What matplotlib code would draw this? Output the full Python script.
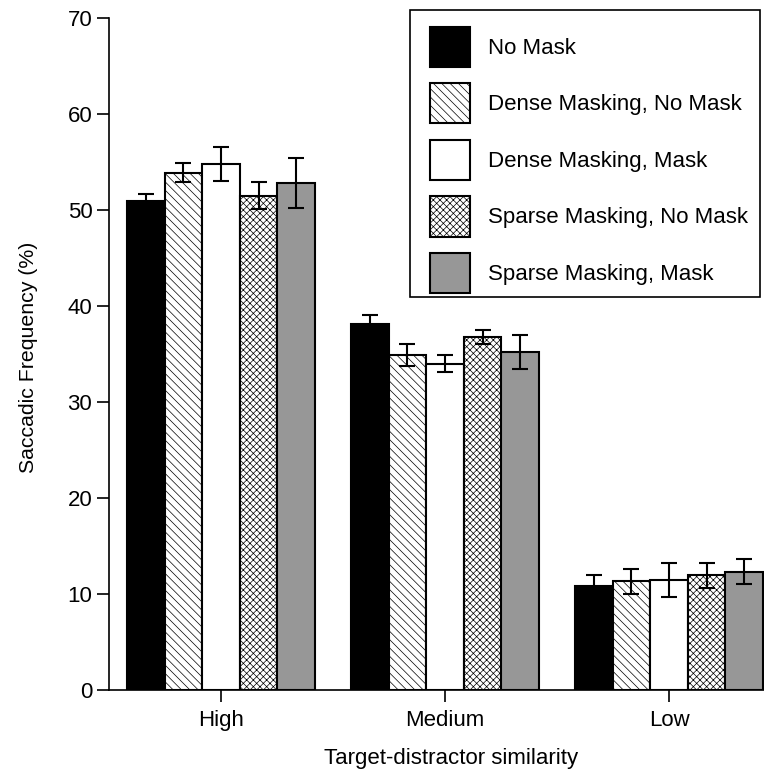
import matplotlib.pyplot as plt
from matplotlib.patches import Rectangle
import numpy as np

plt.rcParams['font.family'] = ['Liberation Sans', 'DejaVu Sans']
plt.rcParams['hatch.linewidth'] = 0.5

groups = ["High", "Medium", "Low"]
conditions = ["No Mask", "Dense Masking, No Mask", "Dense Masking, Mask",
              "Sparse Masking, No Mask", "Sparse Masking, Mask"]

# saccadic frequency (%) per condition, one value per similarity level
means = [
    [50.9, 38.1, 10.8],
    [53.9, 34.9, 11.35],
    [54.8, 34.0, 11.45],
    [51.5, 36.8, 11.95],
    [52.85, 35.2, 12.3],
]
errors = [
    [0.8, 1.0, 1.2],
    [0.95, 1.1, 1.3],
    [1.8, 0.9, 1.75],
    [1.4, 0.73, 1.3],
    [2.6, 1.75, 1.3],
]

colors = ["black", "white", "white", "white", "#979797"]
hatches = [None, "\\\\\\\\", None, "xxxxx", None]

fs = 16
fig = plt.figure(figsize=(7.64, 7.73), dpi=100)
ax = fig.add_axes([109/764, 1 - 690/773, 1 - 109/764, (690 - 18)/773])

x = np.arange(len(groups))
width = 0.168
for i in range(len(conditions)):
    pos = x + (i - 2) * width
    ax.bar(pos, means[i], width, color=colors[i], edgecolor="black",
           linewidth=1.5, hatch=hatches[i], label=conditions[i], zorder=2)
    ax.errorbar(pos, means[i], yerr=errors[i], fmt="none", ecolor="black",
                elinewidth=1.5, capsize=5.5, capthick=1.5, zorder=3)

ax.set_xlim(-0.5, 2.424)
ax.set_ylim(0, 70)
ax.set_yticks(range(0, 71, 10))
ax.set_xticks(x)
ax.set_xticklabels(groups)
ax.tick_params(axis="both", labelsize=fs, width=1.2, length=8.5, color="black")
ax.tick_params(axis="y", pad=3.5)
ax.tick_params(axis="x", pad=6)
ax.spines["top"].set_visible(False)
ax.spines["right"].set_visible(False)
ax.spines["left"].set_linewidth(1.2)
ax.spines["bottom"].set_linewidth(1.2)

ax.set_xlabel("Target-distractor similarity", fontsize=fs, labelpad=12)
ax.xaxis.label.set_x(0.522)
ax.set_ylabel("Saccadic Frequency (%)", fontsize=15.3)
ax.yaxis.set_label_coords(-0.108, 0.495)

# legend entries without their own frame; box drawn separately below
ax.legend(loc="upper right", bbox_to_anchor=(760/764, 1 - 14.6/773),
          bbox_transform=fig.transFigure, borderaxespad=0, frameon=False,
          fontsize=fs, handlelength=1.8, handleheight=2.4,
          handletextpad=0.8, labelspacing=0.74, borderpad=0.55)
fig.patches.append(Rectangle((410/764, 1 - 297/773), 350/764, 287/773,
                             transform=fig.transFigure, fill=False,
                             edgecolor="black", linewidth=1.2, zorder=5))

fig.savefig("out.png", dpi=100)
